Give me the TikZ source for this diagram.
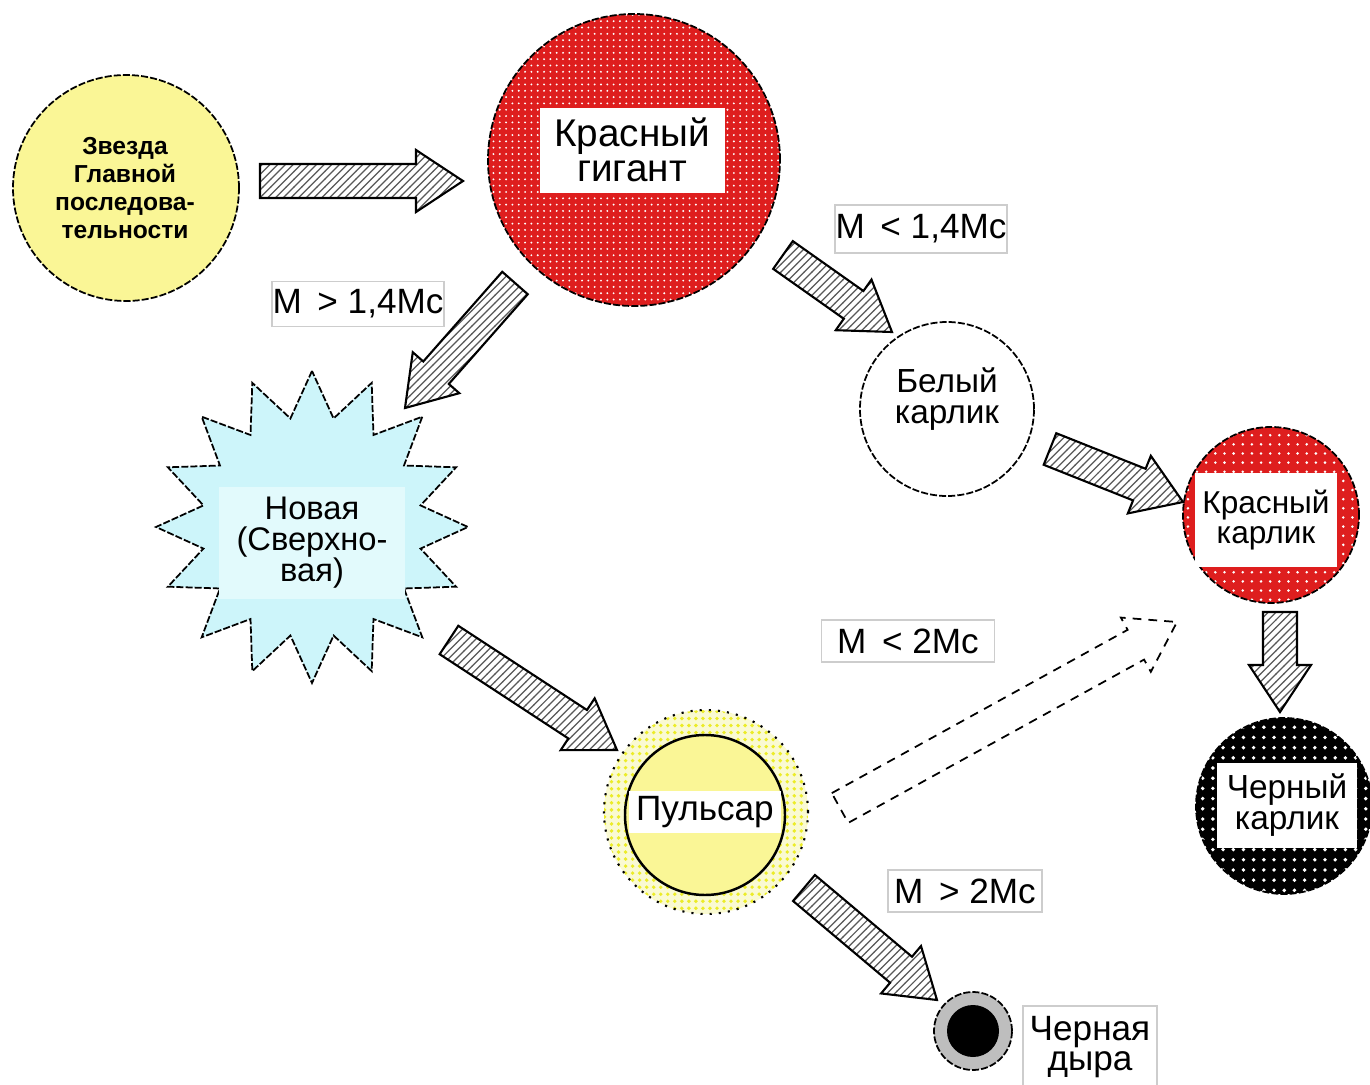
\documentclass[tikz,border=0pt]{standalone}
\usepackage{fontspec}
\setmainfont{Liberation Sans}
\usetikzlibrary{calc, patterns, shapes.geometric}

\definecolor{msyellow}{RGB}{250,246,150}
\definecolor{giantred}{RGB}{222,30,30}
\definecolor{novacyan}{RGB}{205,245,250}
\definecolor{novalight}{RGB}{226,250,252}
\definecolor{pulsaryel}{RGB}{250,246,150}
\definecolor{pulsarpale}{RGB}{250,250,210}
\definecolor{pulsardot}{RGB}{236,236,40}
\definecolor{bhgray}{RGB}{190,190,190}
\definecolor{labelgray}{RGB}{205,205,205}

% fine hatching and dot fillings
\pgfdeclarepatternformonly{finehatch}{\pgfqpoint{-0.5pt}{-0.5pt}}{\pgfqpoint{2.7pt}{2.7pt}}{\pgfqpoint{2.2pt}{2.2pt}}%
{\pgfsetlinewidth{0.35pt}\pgfpathmoveto{\pgfqpoint{0pt}{0pt}}\pgfpathlineto{\pgfqpoint{2.3pt}{2.3pt}}\pgfusepath{stroke}}
\pgfdeclarepatternformonly{giantdots}{\pgfqpoint{-0.4pt}{-0.4pt}}{\pgfqpoint{0.4pt}{0.4pt}}{\pgfqpoint{1.8pt}{1.8pt}}%
{\pgfpathcircle{\pgfqpoint{0pt}{0pt}}{0.3pt}\pgfusepath{fill}}
\pgfdeclarepatternformonly{rddots}{\pgfqpoint{-0.5pt}{-0.5pt}}{\pgfqpoint{0.5pt}{0.5pt}}{\pgfqpoint{2.6pt}{2.6pt}}%
{\pgfpathcircle{\pgfqpoint{0pt}{0pt}}{0.4pt}\pgfusepath{fill}}
\pgfdeclarepatternformonly{bddots}{\pgfqpoint{-0.6pt}{-0.6pt}}{\pgfqpoint{0.6pt}{0.6pt}}{\pgfqpoint{2.9pt}{2.9pt}}%
{\pgfpathcircle{\pgfqpoint{0pt}{0pt}}{0.55pt}\pgfusepath{fill}}
\pgfdeclarepatternformonly{pulsardots}{\pgfqpoint{-0.6pt}{-0.6pt}}{\pgfqpoint{0.6pt}{0.6pt}}{\pgfqpoint{2pt}{2pt}}%
{\pgfpathcircle{\pgfqpoint{0pt}{0pt}}{0.55pt}\pgfusepath{fill}}

% block arrow from #2 to the tip #3
\newcommand{\bigarrow}[3]{%
  \coordinate (#3-b) at ($(#3)!0.47cm!(#2)$);
  \draw[#1] ($(#2)!0.17cm!90:(#3)$) -- ($(#3-b)!0.17cm!90:(#3)$)
    -- ($(#3-b)!0.31cm!90:(#3)$) -- (#3)
    -- ($(#3-b)!0.31cm!-90:(#3)$) -- ($(#3-b)!0.17cm!-90:(#3)$)
    -- ($(#2)!0.17cm!-90:(#3)$) -- cycle;
}

\begin{document}
\begin{tikzpicture}[
  rim/.style={draw=black, line width=0.5pt, dash pattern=on 2pt off 0.6pt},
  body/.style={circle, rim, inner sep=0pt},
  txtbox/.style={fill=white, inner sep=0pt, align=center},
  cond/.style={draw=labelgray, fill=white, line width=0.4pt, inner sep=0pt,
    font=\fontsize{10}{12}\selectfont},
  hatched/.style={draw=black, line width=0.6pt, line join=miter,
    preaction={fill=white}, pattern=finehatch, pattern color=black!65},
  ghost/.style={draw=black, line width=0.5pt, dash pattern=on 2.5pt off 2pt}
]
\useasboundingbox (0,0) rectangle (13.7,10.84);

% stars
\node[body, fill=msyellow, minimum size=2.26cm] (ms) at (1.26,8.96) {};
\node[align=center, inner sep=0pt, font=\bfseries\fontsize{7}{8}\selectfont] (ms-txt) at (1.25,8.96)
  {Звезда\\Главной\\последова-\\тельности};

\node[body, preaction={fill=giantred}, pattern=giantdots, pattern color=white,
  minimum size=2.92cm] (giant) at (6.34,9.24) {};
\node[txtbox, minimum width=1.85cm, minimum height=0.85cm,
  font=\fontsize{11}{10}\selectfont] (giant-txt) at (6.32,9.34) {Красный\\гигант};

\node[body, fill=white, minimum size=1.74cm] (wd) at (9.47,6.75) {};
\node[align=center, inner sep=0pt, font=\fontsize{9.5}{9}\selectfont] (wd-txt) at (9.47,6.85) {Белый\\карлик};

\node[body, preaction={fill=giantred}, pattern=rddots, pattern color=white,
  minimum size=1.76cm] (rd) at (12.71,5.69) {};
\node[txtbox, minimum width=1.42cm, minimum height=0.94cm,
  font=\fontsize{9}{8.6}\selectfont] (rd-txt) at (12.66,5.64) {Красный\\карлик};

\node[body, preaction={fill=black}, pattern=bddots, pattern color=white,
  minimum size=1.76cm] (bd) at (12.84,2.78) {};
\node[txtbox, minimum width=1.40cm, minimum height=0.85cm,
  font=\fontsize{9.5}{9}\selectfont] (bd-txt) at (12.87,2.79) {Черный\\карлик};

\node[star, star points=16, star point ratio=1.41, minimum size=3.12cm, rim,
  fill=novacyan, inner sep=0pt] (nova) at (3.12,5.57) {};
\node[txtbox, fill=novalight, minimum width=1.85cm, minimum height=1.12cm,
  font=\fontsize{9.3}{8.8}\selectfont] (nova-txt) at (3.12,5.41) {Новая\\(Сверхно-\\вая)};

\node[circle, draw=black, dotted, line width=0.6pt, preaction={fill=pulsarpale},
  pattern=pulsardots, pattern color=pulsardot, minimum size=2.04cm] (ring) at (7.06,2.72) {};
\node[circle, draw=black, line width=0.7pt, fill=pulsaryel, minimum size=1.6cm] (pulsar) at (7.05,2.69) {};
\node[txtbox, minimum width=1.52cm, minimum height=0.42cm,
  font=\fontsize{10}{10}\selectfont] (pulsar-txt) at (7.05,2.72) {Пульсар};

\node[body, fill=bhgray, minimum size=0.78cm] (bh) at (9.73,0.53) {};
\node[circle, fill=black, minimum size=0.52cm, inner sep=0pt] (bh-core) at (bh) {};
\node[cond, align=center, minimum width=1.34cm, minimum height=0.82cm,
  font=\fontsize{10}{8.6}\selectfont] (bh-lbl) at (10.90,0.37) {Черная\\дыра};

% mass conditions
\node[cond, minimum width=1.72cm, minimum height=0.45cm] (m1) at (3.58,7.80) {M \,> 1,4Mc};
\node[cond, minimum width=1.72cm, minimum height=0.48cm] (m2) at (9.21,8.55) {M \,< 1,4Mc};
\node[cond, minimum width=1.73cm, minimum height=0.42cm] (m3) at (9.08,4.43) {M \,< 2Mc};
\node[cond, minimum width=1.54cm, minimum height=0.42cm] (m4) at (9.65,1.93) {M \,> 2Mc};

% arrows
\coordinate (ms-out) at (2.60,9.03);    \coordinate (giant-in) at (4.63,9.03);
\coordinate (giant-l) at (5.15,8.01);   \coordinate (nova-in) at (4.05,6.76);
\coordinate (giant-r) at (7.83,8.29);   \coordinate (wd-in) at (8.92,7.52);
\coordinate (wd-out) at (10.50,6.35);   \coordinate (rd-in) at (11.83,5.82);
\coordinate (nova-out) at (4.49,4.44);  \coordinate (pulsar-in) at (6.17,3.34);
\coordinate (pulsar-r) at (8.04,1.96);  \coordinate (bh-in) at (9.37,0.84);
\coordinate (pulsar-u) at (8.40,2.76);  \coordinate (rd-in2) at (11.77,4.62);
\coordinate (rd-out) at (12.80,4.72);   \coordinate (bd-in) at (12.80,3.72);

\bigarrow{hatched}{ms-out}{giant-in}
\bigarrow{hatched}{giant-l}{nova-in}
\bigarrow{hatched}{giant-r}{wd-in}
\bigarrow{hatched}{wd-out}{rd-in}
\bigarrow{hatched}{nova-out}{pulsar-in}
\bigarrow{hatched}{pulsar-r}{bh-in}
\bigarrow{ghost}{pulsar-u}{rd-in2}
\bigarrow{hatched}{rd-out}{bd-in}
\end{tikzpicture}
\end{document}
